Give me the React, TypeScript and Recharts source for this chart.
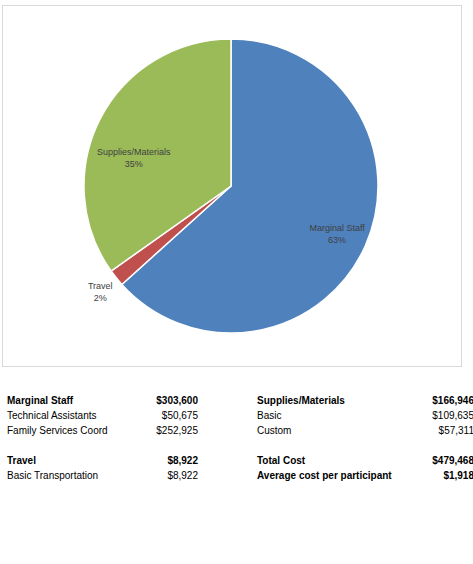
import React from 'react';
import { PieChart, Pie, Cell } from 'recharts';

// cost categories shown in the pie
const categories = ['Marginal Staff', 'Travel', 'Supplies/Materials'];
const categoryTotals = [303600, 8922, 166946];
const sliceColors = ['#4F81BD', '#C0504D', '#9BBB59'];

// breakdown table, left and right columns
const leftLabels = ['Marginal Staff', 'Technical Assistants', 'Family Services Coord', '', 'Travel', 'Basic Transportation'];
const leftValues = ['$303,600', '$50,675', '$252,925', '', '$8,922', '$8,922'];
const leftBold = [true, false, false, false, true, false];
const rightLabels = ['Supplies/Materials', 'Basic', 'Custom', '', 'Total Cost', 'Average cost per participant'];
const rightValues = ['$166,946', '$109,635', '$57,311', '', '$479,468', '$1,918'];
const rightBold = [true, false, false, false, true, true];

const pieData = categories.map((name, i) => ({ name, value: categoryTotals[i] }));

// where each data label sits, relative to the outer radius (Excel "best fit")
const labelPlacement: Record<string, { r: number; shift: number }> = {
  'Marginal Staff': { r: 0.79, shift: 0 },
  Travel: { r: 1.14, shift: 0 },
  'Supplies/Materials': { r: 0.69, shift: 11 },
};

const RADIAN = Math.PI / 180;

const renderLabel = (props: any) => {
  const { cx, cy, midAngle, outerRadius, percent, name } = props;
  const place = labelPlacement[name] || { r: 0.7, shift: 0 };
  const angle = (midAngle + place.shift) * RADIAN;
  const x = cx + outerRadius * place.r * Math.cos(-angle);
  const y = cy + outerRadius * place.r * Math.sin(-angle);
  return (
    <text x={x} y={y} textAnchor="middle" fill="#404040" fontSize={9} fontFamily="'Liberation Sans', Arial, sans-serif">
      <tspan x={x} dy={-2}>{name}</tspan>
      <tspan x={x} dy={12}>{`${Math.round(percent * 100)}%`}</tspan>
    </text>
  );
};

const cellStyle: React.CSSProperties = { height: 15, lineHeight: '15px', whiteSpace: 'nowrap' };

const Column = ({ labels, values, bold, left, labelWidth, valueRight }: any) => (
  <div style={{ position: 'absolute', left, top: 0 }}>
    {labels.map((label: string, i: number) => (
      <div key={i} style={{ ...cellStyle, position: 'relative', width: valueRight, fontWeight: bold[i] ? 700 : 400 }}>
        <span style={{ position: 'absolute', left: 0, width: labelWidth }}>{label}</span>
        <span style={{ position: 'absolute', right: 0 }}>{values[i]}</span>
      </div>
    ))}
  </div>
);

export default function App() {
  return (
    <div
      style={{
        position: 'absolute',
        left: 0,
        top: 0,
        width: 473,
        height: 564,
        overflow: 'hidden',
        background: '#ffffff',
        fontFamily: "'Liberation Sans', Arial, sans-serif",
        fontSize: 10,
        color: '#000000',
      }}
    >
      <div style={{ position: 'absolute', left: 2, top: 5, width: 458, height: 360, border: '1px solid #d9d9d9' }}>
        <PieChart width={458} height={360} margin={{ top: 0, right: 0, bottom: 0, left: 0 }}>
          <Pie
            data={pieData}
            dataKey="value"
            nameKey="name"
            cx={228}
            cy={180}
            outerRadius={147}
            startAngle={90}
            endAngle={-270}
            stroke="#ffffff"
            strokeWidth={1.5}
            label={renderLabel}
            labelLine={false}
            isAnimationActive={false}
          >
            {pieData.map((entry, i) => (
              <Cell key={entry.name} fill={sliceColors[i]} />
            ))}
          </Pie>
        </PieChart>
      </div>

      <div style={{ position: 'absolute', left: 0, top: 393, width: 473, height: 100 }}>
        <Column labels={leftLabels} values={leftValues} bold={leftBold} left={7} labelWidth={150} valueRight={191} />
        <Column labels={rightLabels} values={rightValues} bold={rightBold} left={257} labelWidth={180} valueRight={217} />
      </div>
    </div>
  );
}
